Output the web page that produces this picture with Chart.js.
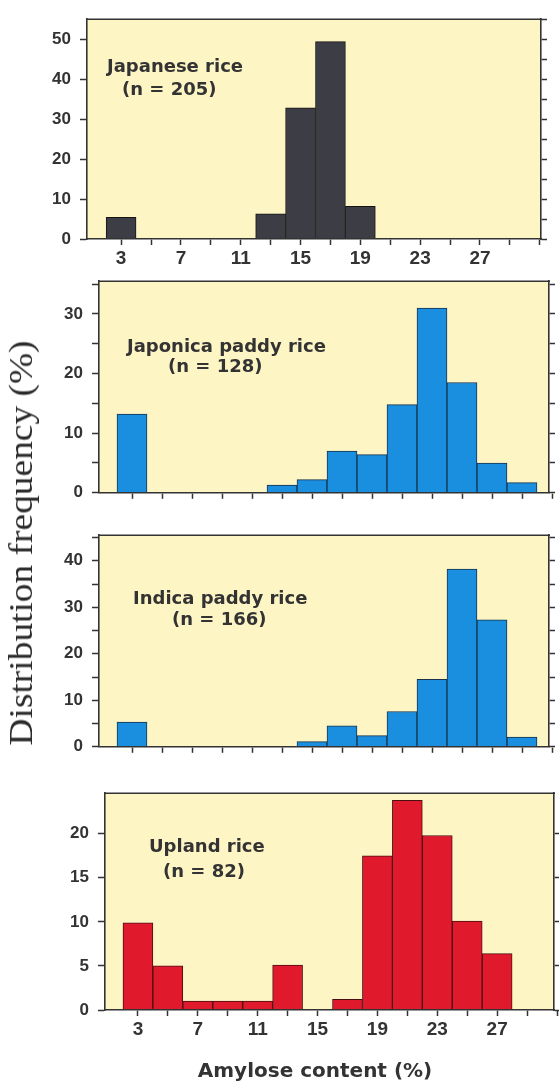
<!DOCTYPE html>
<html>
<head>
<meta charset="utf-8">
<title>Amylose content distribution</title>
<script src="https://cdn.jsdelivr.net/npm/chart.js@4.4.1/dist/chart.umd.min.js"></script>
<style>
  html, body { margin: 0; padding: 0; background: #fff; overflow: hidden; width: 559px; height: 1088px; }
  canvas.panel { position: absolute; left: 0; }
  #yTitle {
    position: absolute; left: 21px; top: 543px;
    font-family: "Liberation Serif", serif; font-size: 34px; color: #2b2b2b;
    white-space: nowrap;
    transform: translate(-50%, -50%) rotate(-90deg) scaleX(1.1);
  }
</style>
</head>
<body>
<canvas id="p1" class="panel" width="559" height="272" style="top:0px"></canvas>
<canvas id="p2" class="panel" width="559" height="250" style="top:262px"></canvas>
<canvas id="p3" class="panel" width="559" height="250" style="top:516px"></canvas>
<canvas id="p4" class="panel" width="559" height="314" style="top:774px"></canvas>
<div id="yTitle">Distribution frequency (%)</div>

<script>
/* ── data: 2 % wide amylose bins, centre values ── */
const binCenters    = [3, 5, 7, 9, 11, 13, 15, 17, 19, 21, 23, 25, 27, 29];
const japaneseRice  = [5.4, 0, 0, 0, 0, 6.3, 32.8, 49.4, 8.2, 0, 0, 0, 0, 0];
const japonicaPaddy = [13.2, 0, 0, 0, 0, 1.3, 2.2, 7.0, 6.4, 14.8, 31.0, 18.5, 5.0, 1.7];
const indicaPaddy   = [5.3, 0, 0, 0, 0, 0, 1.1, 4.5, 2.4, 7.6, 14.5, 38.2, 27.3, 2.1];
const uplandRice    = [9.9, 5.0, 1.0, 1.0, 1.0, 5.1, 0, 1.2, 17.5, 23.8, 19.8, 10.1, 6.4, 0];

const xTickValues = [3, 5, 7, 9, 11, 13, 15, 17, 19, 21, 23, 25, 27, 29, 31];
const xTickLabels = [3, 7, 11, 15, 19, 23, 27];

const panelNames = ["Japanese rice", "Japonica paddy rice", "Indica paddy rice", "Upland rice"];
const panelCounts = ["(n = 205)", "(n = 128)", "(n = 166)", "(n = 82)"];
const xTitle = "Amylose content (%)";

const INK = "#333333";
const PAPER = "#fef5c4";

// pale plot background + top frame line
const frame = {
  id: "frame",
  beforeDatasetsDraw(chart) {
    const { ctx, chartArea: a } = chart;
    ctx.save();
    ctx.fillStyle = PAPER;
    ctx.fillRect(a.left, a.top, a.right - a.left, a.bottom - a.top);
    ctx.restore();
  },
  afterDraw(chart) {
    const { ctx, chartArea: a } = chart;
    ctx.save();
    ctx.strokeStyle = INK;
    ctx.lineWidth = 1.6;
    ctx.beginPath();
    ctx.moveTo(a.left - 1, a.top);
    ctx.lineTo(a.right + 1, a.top);
    ctx.stroke();
    ctx.restore();
  }
};

// free text inside a panel (name, n, axis title)
const panelText = {
  id: "panelText",
  afterDraw(chart, args, opts) {
    const { ctx, chartArea: a } = chart;
    ctx.save();
    ctx.fillStyle = INK;
    ctx.textBaseline = "middle";
    (opts.items || []).forEach(it => {
      ctx.font = it.font;
      ctx.textAlign = it.align || "left";
      ctx.fillText(it.text, a.left + it.dx, a.top + it.dy);
    });
    ctx.restore();
  }
};

const labelFont = 'bold 18px "DejaVu Sans"';

function makePanel(id, values, color, edge, cfg) {
  const ctx = document.getElementById(id).getContext("2d");
  const canvasW = 559;
  return new Chart(ctx, {
    type: "bar",
    data: {
      labels: binCenters,
      datasets: [{
        data: values,
        backgroundColor: color,
        borderColor: edge,
        borderWidth: 1,
        borderSkipped: "start",
        barPercentage: 1,
        categoryPercentage: 1
      }]
    },
    options: {
      responsive: false,
      animation: false,
      events: [],
      layout: { padding: { top: cfg.padTop, left: 0, right: 0, bottom: 0 } },
      plugins: {
        legend: { display: false },
        tooltip: { enabled: false },
        panelText: { items: cfg.text }
      },
      scales: {
        x: {
          type: "linear",
          min: cfg.xMin, max: cfg.xMax,
          offset: false,
          afterBuildTicks: s => { s.ticks = xTickValues.map(v => ({ value: v })); },
          afterFit: s => { s.height = cfg.xH; },
          grid: { offset: false, drawOnChartArea: false, tickLength: 6, color: INK, tickWidth: 1.5 },
          border: { color: INK, width: 1.6, z: 1 },
          ticks: {
            display: cfg.xLabels,
            autoSkip: false, maxRotation: 0, padding: 2,
            color: INK,
            font: { family: "Liberation Sans", weight: "bold", size: 19 },
            callback: v => xTickLabels.includes(v) ? String(v) : ""
          }
        },
        y: {
          position: "left",
          min: 0, max: cfg.yMax,
          afterFit: s => { s.width = cfg.left; },
          grid: { drawOnChartArea: false, tickLength: 7, color: INK, tickWidth: 1.5 },
          border: { color: INK, width: 1.6, z: 1 },
          ticks: {
            stepSize: 5, includeBounds: false, padding: 9,
            color: INK,
            font: { family: "Liberation Sans", weight: "bold", size: 17 },
            callback: v => v % cfg.yLabelStep === 0 ? String(v) : ""
          }
        },
        y2: {
          position: "right",
          min: 0, max: cfg.yMax,
          afterFit: s => { s.width = canvasW - cfg.right; },
          grid: { drawOnChartArea: false, tickLength: 6, color: INK, tickWidth: 1.5 },
          border: { color: INK, width: 1.6, z: 1 },
          ticks: { display: false, stepSize: 5, includeBounds: false }
        }
      }
    },
    plugins: [frame, panelText]
  });
}

makePanel("p1", japaneseRice, "#3d3d45", "#151515", {
  padTop: 14, left: 87, right: 541, xH: 33, xMin: 0.72, xMax: 31.08,
  yMax: 55, yLabelStep: 10, xLabels: true,
  text: [
    { text: panelNames[0], dx: 20, dy: 48, font: labelFont },
    { text: panelCounts[0], dx: 35, dy: 71, font: labelFont }
  ]
});

makePanel("p2", japonicaPaddy, "#1b8fdf", "#16324d", {
  padTop: 13, left: 99, right: 549, xH: 11, xMin: 0.8, xMax: 30.8,
  yMax: 35.5, yLabelStep: 10, xLabels: false,
  text: [
    { text: panelNames[1], dx: 28, dy: 66, font: labelFont },
    { text: panelCounts[1], dx: 69, dy: 86, font: labelFont }
  ]
});

makePanel("p3", indicaPaddy, "#1b8fdf", "#16324d", {
  padTop: 13, left: 99, right: 549, xH: 13, xMin: 0.8, xMax: 30.8,
  yMax: 45.5, yLabelStep: 10, xLabels: false,
  text: [
    { text: panelNames[2], dx: 34, dy: 64, font: labelFont },
    { text: panelCounts[2], dx: 73, dy: 85, font: labelFont }
  ]
});

makePanel("p4", uplandRice, "#e01a2c", "#4a0f14", {
  padTop: 13, left: 105, right: 556, xH: 78, xMin: 0.8, xMax: 30.8,
  yMax: 24.6, yLabelStep: 5, xLabels: true,
  text: [
    { text: panelNames[3], dx: 44, dy: 54, font: labelFont },
    { text: panelCounts[3], dx: 58, dy: 79, font: labelFont },
    { text: xTitle, dx: 210, dy: 279, font: 'bold 20px "DejaVu Sans"', align: "center" }
  ]
});
</script>
</body>
</html>
